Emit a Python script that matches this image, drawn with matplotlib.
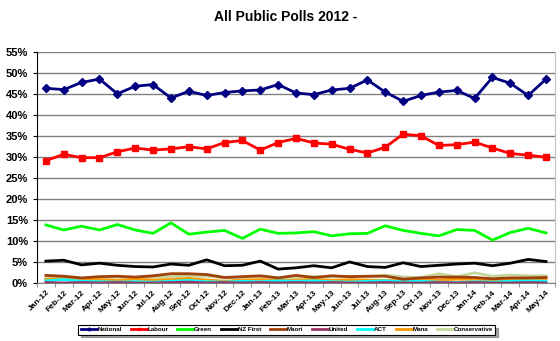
# All Public Polls 2012 - line chart (Excel style)
import matplotlib
matplotlib.use('Agg')
import matplotlib.pyplot as plt
from matplotlib.ticker import FuncFormatter, FixedLocator

months = ['Jan-12', 'Feb-12', 'Mar-12', 'Apr-12', 'May-12', 'Jun-12', 'Jul-12', 'Aug-12',
          'Sep-12', 'Oct-12', 'Nov-12', 'Dec-12', 'Jan-13', 'Feb-13', 'Mar-13', 'Apr-13',
          'May-13', 'Jun-13', 'Jul-13', 'Aug-13', 'Sep-13', 'Oct-13', 'Nov-13', 'Dec-13',
          'Jan-14', 'Feb-14', 'Mar-14', 'Apr-14', 'May-14']

national = [46.4, 46.1, 47.8, 48.6, 45.1, 46.9, 47.3, 44.1, 45.7, 44.7, 45.4, 45.8, 46.0, 47.3,
            45.3, 44.9, 46.0, 46.4, 48.4, 45.5, 43.3, 44.7, 45.5, 45.9, 44.0, 49.0, 47.6, 44.7, 48.6]
labour = [29.2, 30.7, 29.9, 29.9, 31.3, 32.2, 31.7, 32.0, 32.5, 32.0, 33.5, 34.0, 31.7, 33.5,
          34.5, 33.4, 33.1, 31.9, 31.0, 32.4, 35.5, 35.1, 32.8, 33.0, 33.6, 32.2, 30.9, 30.5, 30.0]
green = [13.9, 12.7, 13.6, 12.7, 14.0, 12.7, 11.9, 14.4, 11.7, 12.2, 12.6, 10.7, 12.9, 11.9,
         12.0, 12.3, 11.3, 11.8, 11.9, 13.7, 12.6, 11.9, 11.3, 12.8, 12.6, 10.3, 12.1, 13.1, 12.0]
nzfirst = [5.3, 5.5, 4.4, 4.8, 4.3, 4.0, 3.9, 4.6, 4.3, 5.6, 4.2, 4.3, 5.3, 3.4,
           3.7, 4.2, 3.7, 5.1, 4.0, 3.8, 4.9, 4.0, 4.3, 4.6, 4.8, 4.2, 4.8, 5.7, 5.2]
maori = [1.9, 1.7, 1.3, 1.6, 1.7, 1.5, 1.8, 2.3, 2.3, 2.1, 1.4, 1.6, 1.8, 1.3,
         1.9, 1.4, 1.8, 1.6, 1.7, 1.7, 1.0, 1.3, 1.5, 1.5, 1.4, 1.1, 1.3, 1.3, 1.4]
united = [0.2, 0.1, 0.2, 0.1, 0.2, 0.1, 0.1, 0.2, 0.3, 0.1, 0.2, 0.1, 0.2, 0.1,
          0.2, 0.1, 0.2, 0.1, 0.1, 0.2, 0.1, 0.1, 0.2, 0.1, 0.2, 0.1, 0.1, 0.2, 0.1]
act = [0.6, 0.9, 0.5, 0.4, 0.3, 0.4, 0.3, 0.5, 0.7, 0.4, 0.3, 0.5, 0.4, 0.6,
       0.5, 0.6, 0.4, 0.3, 0.5, 0.6, 0.4, 0.5, 0.3, 0.2, 0.4, 0.3, 0.5, 0.6, 0.5]
mana = [0.9, 1.1, 0.8, 0.9, 0.7, 1.0, 0.8, 0.9, 1.2, 0.8, 0.5, 0.8, 0.9, 0.7,
        0.8, 1.0, 0.7, 0.9, 0.8, 0.7, 0.6, 0.9, 0.8, 1.0, 0.9, 0.7, 0.9, 1.0, 1.1]
conservative = [1.2, 1.4, 1.1, 1.3, 1.5, 1.3, 1.5, 1.6, 1.8, 1.7, 1.3, 1.5, 1.6, 1.4,
                1.5, 1.6, 1.5, 1.7, 1.6, 2.0, 1.5, 1.4, 2.3, 1.6, 2.5, 1.7, 2.0, 1.8, 1.8]

x = list(range(len(months)))

plt.rcParams['font.family'] = ['Liberation Sans', 'DejaVu Sans']
fig = plt.figure(figsize=(5.6, 3.41), dpi=100)
ax = fig.add_axes([0.066, 0.169, 0.925, 0.678])

# small parties first so the big ones sit on top
ax.plot(x, conservative, color='#C3D69B', lw=2, label='Conservative', zorder=2)
ax.plot(x, mana, color='#FF9900', lw=2, label='Mana', zorder=2)
ax.plot(x, act, color='#00FFFF', lw=2, label='ACT', zorder=2)
ax.plot(x, united, color='#993366', lw=2, label='United', zorder=2)
ax.plot(x, maori, color='#A0400A', lw=2, label='Maori', zorder=2)
ax.plot(x, nzfirst, color='black', lw=2, label='NZ First', zorder=3)
ax.plot(x, green, color='#00FF00', lw=2, label='Green', zorder=3)
ax.plot(x, labour, color='#FF0000', lw=2, marker='s', ms=5, label='Labour', zorder=4)
ax.plot(x, national, color='#000080', lw=2, marker='D', ms=4, label='National', zorder=4)

ax.set_xlim(-0.5, len(months) - 0.5)
ax.set_ylim(0, 55)
ax.set_yticks(range(0, 56, 5))
ax.yaxis.set_major_formatter(FuncFormatter(lambda v, p: '%d%%' % v))
ax.yaxis.grid(True, color='#808080', lw=1)
ax.set_axisbelow(True)
ax.set_xticks(x)
ax.set_xticklabels(months, rotation=45, ha='right', rotation_mode='anchor',
                   fontsize=6, fontweight='bold')
ax.xaxis.set_minor_locator(FixedLocator([i - 0.5 for i in range(len(months) + 1)]))
ax.tick_params(axis='x', which='major', length=0, pad=4)
ax.tick_params(axis='x', which='minor', length=3, direction='out', color='#808080')
ax.tick_params(axis='y', labelsize=8, length=3, direction='out')
for lbl in ax.get_yticklabels():
    lbl.set_fontweight('bold')

ax.spines['top'].set_visible(False)
ax.spines['left'].set_color('black')
ax.spines['bottom'].set_color('#808080')
ax.spines['right'].set_color('#C0C0C0')

fig.text(0.51, 0.95, 'All Public Polls 2012 -', ha='center', va='center',
         fontsize=10, fontweight='bold')

handles, labels = ax.get_legend_handles_labels()
order = ['National', 'Labour', 'Green', 'NZ First', 'Maori', 'United', 'ACT', 'Mana', 'Conservative']
hmap = dict(zip(labels, handles))
leg = fig.legend([hmap[k] for k in order], order, loc='center', bbox_to_anchor=(0.512, 0.033),
                 ncol=9, prop={'size': 4.5, 'weight': 'bold'}, frameon=True, fancybox=False,
                 shadow=True, handlelength=2.6, columnspacing=1.4, handletextpad=0.1,
                 borderpad=0.35, markerscale=0.4)
leg.get_frame().set_edgecolor('black')
leg.get_frame().set_linewidth(0.8)

fig.savefig('out.png', dpi=100)
